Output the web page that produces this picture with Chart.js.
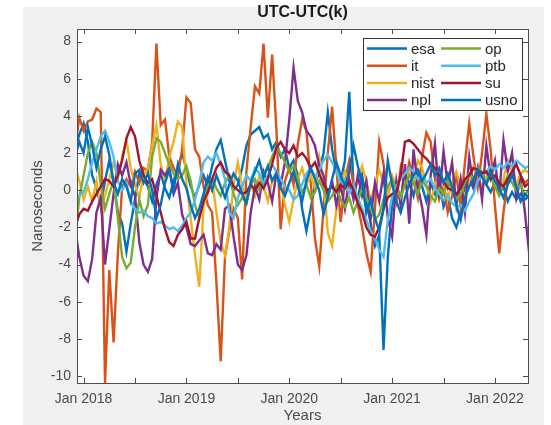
<!DOCTYPE html>
<html>
<head>
<meta charset="utf-8">
<title>UTC-UTC(k)</title>
<script src="https://cdn.jsdelivr.net/npm/chart.js@4.4.1/dist/chart.umd.min.js"></script>
<style>
html, body { margin: 0; padding: 0; background: #ffffff; }
#wrap { position: relative; width: 551px; height: 425px; }
</style>
</head>
<body>
<div id="wrap"><canvas id="utcChart" width="551" height="425"></canvas></div>
<script>
// months since Jan 2018, one sample every half month
var months = [-1, -0.5,
    0, 0.5, 1, 1.5, 2, 2.5, 3, 3.5, 4, 4.5, 5, 5.5, 6, 6.5, 7, 7.5, 8, 8.5, 9, 9.5, 10, 10.5, 11, 11.5,
    12, 12.5, 13, 13.5, 14, 14.5, 15, 15.5, 16, 16.5, 17, 17.5, 18, 18.5, 19, 19.5, 20, 20.5, 21, 21.5, 22, 22.5, 23, 23.5,
    24, 24.5, 25, 25.5, 26, 26.5, 27, 27.5, 28, 28.5, 29, 29.5, 30, 30.5, 31, 31.5, 32, 32.5, 33, 33.5, 34, 34.5, 35, 35.5,
    36, 36.5, 37, 37.5, 38, 38.5, 39, 39.5, 40, 40.5, 41, 41.5, 42, 42.5, 43, 43.5, 44, 44.5, 45, 45.5, 46, 46.5, 47, 47.5,
    48, 48.5, 49, 49.5, 50, 50.5, 51, 51.5, 52];

var seriesNames = ['esa', 'it', 'nist', 'npl', 'op', 'ptb', 'su', 'usno'];
var seriesColors = ['#0072BD', '#D95319', '#EDB120', '#7E2F8E', '#77AC30', '#4DBEEE', '#A2142F', '#0072BD'];

// nanoseconds
var esa = [2.2, 3.0,
    3.6, 2.6, 0.8, 0.1, -0.8, 0.5, 1.6, 0.4, -1.2, -1.8, -3.3, -1.8,
    -0.5, 0.9, 0.6, 0.2, -0.6, 0.3, 0.9, 0.1, -0.4, 0.5, 1.2, 2.0,
    1.1, 0.2, -0.4, 0.3, 0.8, 0.2, 1.3, 2.2, 2.7, 1.6, 0.5, 0.0,
    0.3, 1.2, 2.4, 3.0, 3.2, 3.4, 2.8, 3.0, 2.2, 2.6, 1.8, 2.2,
    1.2, 1.6, 0.8, -1.0, -2.2, -1.0, 0.3, 1.0, 2.0, 4.2, 2.2, 1.0,
    0.5, 1.6, 5.3, 0.2, -0.5, 0.8, -0.6, -1.8, -3.0, -2.4, -8.6, -3.6,
    -0.8, 0.2, -0.5, 1.0, 0.4, -0.3, 0.8, 0.2, -0.6, 0.4, -0.2, 0.6,
    -0.9, -0.3, -1.5, -2.0, -1.2, 0.2, 0.6, 0.1, 0.5, 0.9, 0.3, -0.1,
    0.4, -0.2, 0.2, -0.6, -0.1, -0.5, -0.2, -0.5, -0.3];

var it = [2.3, 3.9,
    3.2, 3.7, 3.8, 4.4, 4.2, -10.4, -4.3, -8.2, -3.4, 0.2, 0.6, 0.2,
    1.0, 0.4, 1.2, 1.0, 2.6, 7.9, 3.5, 3.8, 1.8, 1.2, 0.8, 2.2,
    5.0, 4.7, 2.2, 1.8, 0.2, -0.8, -1.2, -5.0, -9.2, -3.6, -2.2, -1.0,
    -1.5, -4.8, 1.0, 3.4, 5.6, 5.2, 7.9, 3.9, 7.3, 3.3, -2.1, 0.5,
    1.2, 0.3, 2.5, 3.8, 3.2, 0.5, -2.6, -4.1, -1.0, 2.0, 4.5, 1.2,
    -1.7, 0.5, 1.6, 0.3, -0.8, -2.0, -3.4, -4.4, -1.0, 2.6, 1.4, -0.2,
    0.5, -0.6, 1.2, 0.3, 1.5, 0.6, -0.4, 1.8, 3.1, 2.6, 0.6, -0.5,
    0.2, -1.2, -0.3, 0.8, -0.9, 1.5, 3.6, 1.8, 0.2, 2.0, 4.1, 2.2,
    -0.8, -3.4, -1.2, 0.6, 1.0, 0.3, 0.8, 0.4, 0.6];

var nist = [1.3, 0.5,
    -0.5, 0.2, -0.6, 0.5, -1.0, -0.3, 0.6, 1.5, 0.6, 1.8, 2.7, 1.2,
    0.3, -0.4, 0.8, 1.2, 2.4, 3.5, 1.4, 0.5, 1.8, 2.6, 3.7, 3.4,
    0.4, -1.5, -3.5, -5.2, -0.8, -0.2, 0.5, -1.2, -2.8, -3.5, -2.0, 0.3,
    1.5, 0.2, -0.6, 0.4, -0.3, 0.8, 0.2, -0.6, 0.5, 1.0, 0.4, -0.8,
    -1.7, -0.5, 0.6, 1.2, 0.3, 0.8, 0.1, 1.8, 0.6, -2.3, -3.0, -1.0,
    0.4, 1.0, 0.2, -0.4, 0.6, 1.3, 0.5, -0.6, 0.3, 1.1, 0.4, -0.3,
    0.8, 0.2, -0.4, 0.6, 1.0, 0.4, 1.6, 1.2, 0.3, -0.6, 0.2, 0.9,
    0.3, -0.5, 0.4, 1.0, 0.2, -0.3, 0.5, 1.3, 0.8, 0.1, 0.7, 1.1,
    0.4, -0.2, 0.6, 1.6, 1.0, 0.3, 0.9, 1.1, 0.9];

var npl = [-2.0, -3.6,
    -4.6, -4.9, -3.7, -1.2, -0.4, -4.0, -2.1, -0.2, 1.4, 0.8, 1.5, 0.3,
    -0.3, -2.8, -4.0, -4.4, -3.7, -0.4, 1.1, 0.8, 1.2, -0.2, 0.4, -1.3,
    -2.0, -2.9, -3.0, -2.7, -2.4, -3.4, -3.5, -2.9, -3.2, -1.0, -0.8, -2.5,
    -4.0, -4.3, -3.5, -1.2, 0.2, -0.5, 1.0, 0.4, -0.6, 0.9, 0.3, 1.5,
    3.8, 6.6, 4.8, 4.2, 3.2, 2.9, 2.4, 1.3, 0.8, -0.4, 0.5, -0.8,
    0.3, -1.0, 0.6, -0.5, 0.8, -0.3, 0.5, -1.5, 0.4, -0.6, 0.9, -1.5,
    -2.5, 0.5, -0.8, 1.4, -1.8, 2.2, 0.2, -0.9, -2.4, 0.8, 2.5, -0.4,
    2.1, 0.3, 1.5, -0.8, 0.6, -1.2, 1.8, 0.2, 1.2, -0.5, 2.4, 0.7,
    1.6, -0.3, 2.7, 1.0, 2.0, -0.4, 0.6, -1.2, -3.4];

var op = [-2.7, -0.4,
    0.8, 2.0, 2.6, 2.0, 0.3, -1.0, -0.2, 0.5, -1.5, -3.6, -4.2, -3.9,
    -2.0, -0.5, -1.4, -0.8, 1.8, 2.8, 2.6, 2.0, 1.4, 0.9, 0.6, 0.8,
    1.3, 0.5, -0.8, -1.5, -0.6, 0.2, 0.6, 0.1, -0.3, 0.4, 0.8, -0.2,
    -0.8, -0.4, -0.7, 0.3, 0.6, 0.0, 0.9, 1.2, 1.8, 2.3, 2.0, 1.5,
    1.0, 1.3, 0.6, -0.1, 0.3, -0.4, -0.1, 0.5, 0.0, -0.6, -0.3, 0.2,
    -0.5, -0.9, -0.4, -1.2, -0.6, 0.1, -0.4, -1.0, -1.6, -1.3, -0.5, 0.2,
    0.6, 0.1, -0.4, 0.3, 0.8, 0.4, -0.2, 0.5, 0.2, -0.3, -0.6, 0.1,
    -0.2, 0.5, 0.0, -0.5, -0.2, 0.4, 0.9, 0.6, 1.2, 1.0, 0.4, 0.7,
    0.2, -0.3, 0.3, 0.8, 0.4, 0.0, 0.3, -0.3, 0.1];

var ptb = [-0.2, -0.3,
    -0.1, 0.6, 1.5, 2.2, 2.9, 3.2, 2.6, 1.8, 0.5, 0.0, 0.4, -0.6,
    -1.0, -1.2, -1.1, -1.4, -1.5, -1.8, -1.7, -1.9, -2.1, -2.0, -2.2, -1.9,
    -1.5, -1.2, -0.5, 0.4, 1.5, 1.8, 1.6, 2.0, 1.4, 0.6, -1.2, -1.5,
    -0.4, 0.2, 0.8, 0.5, 1.2, 0.9, 0.4, 0.8, 1.4, 1.0, 0.6, 0.2,
    0.0, -0.5, -0.3, 0.3, 0.9, 1.2, 0.7, 1.1, 1.6, 1.9, 1.5, 1.0,
    0.4, 0.6, -0.2, 0.3, -0.4, -1.0, -1.6, -2.2, -2.6, -3.2, -3.6, -1.6,
    -0.3, 0.2, 0.6, 0.9, 1.2, 1.0, 0.6, 0.8, 0.4, 0.6, 0.1, -0.2,
    -0.5, -0.3, -0.7, -0.9, -0.8, -1.1, -0.6, -0.2, 0.5, 0.8, 1.0, 1.3,
    1.1, 1.4, 1.2, 1.5, 1.3, 1.6, 1.4, 1.2, 1.3];

var su = [-2.0, -1.3,
    -1.0, -1.1, -0.6, -0.2, 0.2, 0.6, 0.5, 0.2, 0.8, 1.6, 2.8, 3.4,
    2.9, 1.6, 0.8, 0.4, 0.6, -0.3, -1.2, -2.1, -2.8, -3.0, -2.4, -2.1,
    -1.7, -2.6, -2.6, -1.5, -0.6, -0.1, 0.6, 1.2, 1.5, 1.0, 0.8, 0.2,
    0.0, -0.2, -0.1, 0.3, 0.0, 0.4, 0.1, 0.6, 1.4, 2.3, 2.6, 2.2,
    2.0, 2.4, 1.8, 2.0, 1.7, 1.2, 1.5, 0.9, 0.3, 0.0, 0.2, -0.1,
    0.3, 0.1, 0.5, 0.0, -0.7, -1.2, -2.0, -2.4, -2.5, -2.0, -1.0, -0.4,
    -0.2, -0.1, 0.8, 2.6, 2.7, 2.5, 2.2, 1.9, 1.7, 1.4, 1.2, 0.8,
    0.5, 0.1, 0.0, -0.2, 0.1, 0.6, 0.8, 1.2, 1.1, 0.9, 1.0, 0.6,
    0.8, 0.4, 0.2, 0.6, 1.0, 1.4, 0.8, 0.2, 0.4];

var usno = [1.8, 2.6,
    2.0, 3.4, 2.4, 1.2, 2.2, 2.9, 1.9, 0.4, -0.2, 0.6, 0.2, -0.6,
    0.9, 1.1, 0.4, 0.9, 0.0, -1.5, -0.8, 0.4, 1.1, 0.0, 1.4, 0.6,
    0.1, -0.8, -1.5, -1.0, -0.2, 0.7, 0.0, 0.8, 0.2, -0.4, 0.3, 0.9,
    0.5, -0.2, -0.7, 0.4, 1.0, 1.6, 0.7, 1.3, 0.5, 0.9, 0.1, -0.3,
    0.4, 1.0, 0.2, -0.6, 0.5, 1.2, 0.6, 0.0, -1.3, -0.4, 0.6, 1.5,
    0.8, 0.2, 1.0, 2.4, 1.3, 0.4, -1.2, -0.5, -1.5, -2.2, -1.0, 1.6,
    0.3, -0.6, -1.2, -0.4, 0.3, 0.8, 1.1, 0.5, 0.9, 1.4, 0.8, 1.2,
    0.4, 0.9, 0.2, -0.8, -1.6, -0.4, 0.2, 0.6, 1.1, 0.7, 0.3, 1.0,
    0.5, 0.1, -0.4, 0.3, 0.8, 0.2, -0.6, -0.2, -0.4];

var yTickValues = [-10, -8, -6, -4, -2, 0, 2, 4, 6, 8];
var xTickMonths = [0, 12, 24, 36, 48];
var xTickLabels = ['Jan 2018', 'Jan 2019', 'Jan 2020', 'Jan 2021', 'Jan 2022'];
var xMinorMonths = [0, 6, 12, 18, 24, 30, 36, 42, 48];

var seriesValues = [esa, it, nist, npl, op, ptb, su, usno];
var legendColumns = [['esa', 'it', 'nist', 'npl'], ['op', 'ptb', 'su', 'usno']];

var fontFamily = '"Liberation Sans", Arial, Helvetica, sans-serif';
var axisColor = '#4d4d4d';
var textColor = '#4a4a4a';

// gray figure, white axes, box with inward ticks, legend and title (MATLAB look)
var matlabLook = {
    id: 'matlabLook',
    beforeDraw: function(chart){
        var ctx = chart.ctx;
        var a = chart.chartArea;
        ctx.save();
        ctx.fillStyle = '#f0f0f0';
        ctx.fillRect(23, 7, 521, 418);
        ctx.fillStyle = '#ffffff';
        ctx.fillRect(a.left, a.top, a.right - a.left, a.bottom - a.top);
        ctx.restore();
    },
    afterDatasetsDraw: function(chart){
        var ctx = chart.ctx;
        var a = chart.chartArea;
        var xs = chart.scales.x;
        var ys = chart.scales.y;
        var tick = 5;
        ctx.save();
        ctx.strokeStyle = axisColor;
        ctx.lineWidth = 1;
        ctx.strokeRect(Math.round(a.left) + 0.5, Math.round(a.top) + 0.5,
            Math.round(a.right - a.left), Math.round(a.bottom - a.top));
        ctx.beginPath();
        xMinorMonths.forEach(function(m){
            var px = Math.round(xs.getPixelForValue(m)) + 0.5;
            ctx.moveTo(px, a.top); ctx.lineTo(px, a.top + tick);
            ctx.moveTo(px, a.bottom); ctx.lineTo(px, a.bottom - tick);
        });
        yTickValues.forEach(function(v){
            var py = Math.round(ys.getPixelForValue(v)) + 0.5;
            ctx.moveTo(a.left, py); ctx.lineTo(a.left + tick, py);
            ctx.moveTo(a.right, py); ctx.lineTo(a.right - tick, py);
        });
        ctx.stroke();

        // legend
        var boxL = 363.5, boxT = 38.5, boxW = 159, boxH = 72;
        ctx.fillStyle = '#ffffff';
        ctx.fillRect(boxL, boxT, boxW, boxH);
        ctx.strokeStyle = '#333333';
        ctx.strokeRect(boxL, boxT, boxW, boxH);
        ctx.font = '15px ' + fontFamily;
        ctx.textBaseline = 'middle';
        ctx.textAlign = 'left';
        var colX = [367, 441];
        legendColumns.forEach(function(col, c){
            col.forEach(function(name, r){
                var k = seriesNames.indexOf(name);
                var y = 48.5 + r * 17.2;
                ctx.strokeStyle = seriesColors[k];
                ctx.lineWidth = 2.5;
                ctx.beginPath();
                ctx.moveTo(colX[c], y);
                ctx.lineTo(colX[c] + 40, y);
                ctx.stroke();
                ctx.fillStyle = '#262626';
                ctx.fillText(name, colX[c] + 44, y + 1);
            });
        });

        // title, centred over the axes
        ctx.font = 'bold 16px ' + fontFamily;
        ctx.textAlign = 'center';
        ctx.textBaseline = 'alphabetic';
        ctx.fillStyle = '#1a1a1a';
        ctx.fillText('UTC-UTC(k)', (a.left + a.right) / 2, 17);
        ctx.restore();
    }
};

var datasets = seriesNames.map(function(name, k){
    return {
        label: name,
        data: seriesValues[k].map(function(v, i){ return {x: months[i], y: v}; }),
        borderColor: seriesColors[k],
        backgroundColor: seriesColors[k],
        borderWidth: 2.4,
        pointRadius: 0,
        tension: 0,
        fill: false,
        order: seriesNames.length - k
    };
});

document.addEventListener("DOMContentLoaded", function(){
    new Chart(document.getElementById('utcChart'), {
        type: 'line',
        data: { datasets: datasets },
        plugins: [matlabLook],
        options: {
            responsive: false,
            animation: false,
            devicePixelRatio: 1,
            layout: { padding: { top: 29, right: 23, left: 0, bottom: 0 } },
            plugins: {
                legend: { display: false },
                title: { display: false },
                tooltip: { enabled: false }
            },
            scales: {
                x: {
                    type: 'linear',
                    min: -0.77,
                    max: 51.86,
                    afterBuildTicks: function(scale){
                        scale.ticks = xTickMonths.map(function(m){ return {value: m}; });
                    },
                    afterFit: function(scale){ scale.height = 42; },
                    grid: { display: false, drawTicks: false },
                    border: { display: false },
                    ticks: {
                        autoSkip: false,
                        maxRotation: 0,
                        padding: 8,
                        color: textColor,
                        font: { family: fontFamily, size: 14 },
                        callback: function(value){
                            return xTickLabels[xTickMonths.indexOf(value)];
                        }
                    },
                    title: {
                        display: true,
                        text: 'Years',
                        color: textColor,
                        font: { family: fontFamily, size: 15 },
                        padding: { top: 0, bottom: 0 }
                    }
                },
                y: {
                    min: -10.38,
                    max: 8.68,
                    afterBuildTicks: function(scale){
                        scale.ticks = yTickValues.map(function(v){ return {value: v}; });
                    },
                    afterFit: function(scale){ scale.width = 77; },
                    grid: { display: false, drawTicks: false },
                    border: { display: false },
                    ticks: {
                        padding: 6,
                        color: textColor,
                        font: { family: fontFamily, size: 14 }
                    },
                    title: {
                        display: true,
                        text: 'Nanoseconds',
                        color: textColor,
                        font: { family: fontFamily, size: 15 },
                        padding: { top: 29, bottom: 0 }
                    }
                }
            }
        }
    });
});
</script>
</body>
</html>
